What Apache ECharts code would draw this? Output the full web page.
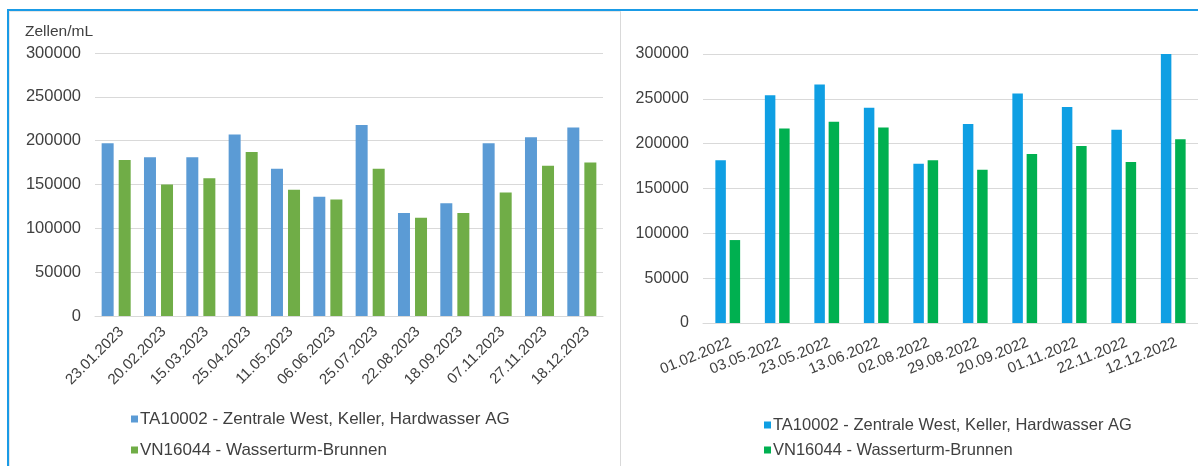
<!DOCTYPE html>
<html>
<head>
<meta charset="utf-8">
<script src="https://cdn.jsdelivr.net/npm/echarts@6/dist/echarts.min.js"></script>
<style>
  html, body { margin:0; padding:0; width:1198px; height:466px; overflow:hidden; background:#fff; }
  #frame { position:absolute; left:7px; top:9px; width:1300px; height:600px; border-top:2px solid #1a9be6; border-left:2px solid #1a9be6; }
  #panel { position:absolute; left:9px; top:11px; width:610px; height:600px; border-top:1px solid #e6e6e6; border-left:1px solid #e6e6e6; border-right:1px solid #d9d9d9; }
  .chart { position:absolute; left:0; top:0; width:1198px; height:466px; }
</style>
</head>
<body>
<div id="frame"></div>
<div id="panel"></div>
<div id="c1" class="chart"></div>
<div id="c2" class="chart"></div>
<script>
// ---- data ----
const seriesNameA = 'TA10002 - Zentrale West, Keller, Hardwasser AG';
const seriesNameB = 'VN16044 - Wasserturm-Brunnen';
const yUnit = 'Zellen/mL';

const dates2023 = ['23.01.2023','20.02.2023','15.03.2023','25.04.2023','11.05.2023','06.06.2023','25.07.2023','22.08.2023','18.09.2023','07.11.2023','27.11.2023','18.12.2023'];
const ta2023 = [197000,181000,181000,207000,168000,136000,218000,117500,128500,197000,204000,215000];
const vn2023 = [178000,150000,157000,187000,144000,133000,168000,112000,117500,141000,171500,175000];

const dates2022 = ['01.02.2022','03.05.2022','23.05.2022','13.06.2022','02.08.2022','29.08.2022','20.09.2022','01.11.2022','22.11.2022','12.12.2022'];
const ta2022 = [181500,254000,266000,240000,177500,222000,256000,241000,215500,300000];
const vn2022 = [92500,217000,224500,218000,181500,171000,188500,197500,179500,205000];

const yTicks = [0,50000,100000,150000,200000,250000,300000];

const textColor = '#404040';
const gridColor = '#d9d9d9';
const font = 'Liberation Sans, Arial, sans-serif';

function makeOption(cfg) {
  return {
    animation: false,
    textStyle: { fontFamily: font },
    grid: cfg.grid,
    legend: {
      orient: 'vertical',
      left: cfg.legendLeft, top: cfg.legendTop, height: 120,
      itemWidth: 7, itemHeight: 7, itemGap: cfg.legendGap,
      icon: 'rect',
      textStyle: { fontSize: cfg.legendFont, color: textColor, fontFamily: font, lineHeight: 18, padding: [0,0,0,-3] },
      data: [seriesNameA, seriesNameB]
    },
    xAxis: {
      type: 'category',
      data: cfg.cats,
      axisTick: { show: false },
      axisLine: { lineStyle: { color: gridColor } },
      axisLabel: { rotate: cfg.rotate, fontSize: cfg.xFont, color: textColor, margin: cfg.xMargin, interval: 0, fontFamily: font, verticalAlign: 'top' }
    },
    yAxis: {
      type: 'value',
      min: yTicks[0], max: yTicks[yTicks.length-1], interval: yTicks[1]-yTicks[0],
      axisLine: { show: false }, axisTick: { show: false },
      splitLine: { lineStyle: { color: gridColor } },
      axisLabel: { fontSize: cfg.yFont, color: textColor, margin: cfg.yMargin, fontFamily: font, formatter: function (v) { return String(v); } }
    },
    series: [
      { name: seriesNameA, type: 'bar', data: cfg.a, barWidth: cfg.barWidth, barGap: cfg.barGap, itemStyle: { color: cfg.colorA } },
      { name: seriesNameB, type: 'bar', data: cfg.b, barWidth: cfg.barWidth, barGap: cfg.barGap, itemStyle: { color: cfg.colorB } }
    ],
    graphic: cfg.graphic || []
  };
}

const c1 = echarts.init(document.getElementById('c1'), null, { renderer: 'canvas' });
c1.setOption(makeOption({
  grid: { left: 95, top: 53, width: 508, height: 263 },
  cats: dates2023, a: ta2023, b: vn2023,
  colorA: '#5b9bd5', colorB: '#70ad47',
  rotate: 45, xFont: 15, xMargin: 8, yMargin: 14, yFont: 16.5,
  barWidth: 12, barGap: '42%',
  legendLeft: 126, legendTop: 405, legendGap: 13, legendFont: 17,
  graphic: [{ type: 'text', left: 25, top: 24, style: { text: yUnit, fontSize: 15.5, fill: textColor, fontFamily: font } }]
}));

const c2 = echarts.init(document.getElementById('c2'), null, { renderer: 'canvas' });
c2.setOption(makeOption({
  grid: { left: 703, top: 54, width: 502, height: 269 },
  cats: dates2022, a: ta2022, b: vn2022,
  colorA: '#0f9fe3', colorB: '#00b050',
  rotate: 22, xFont: 15, xMargin: 12, yMargin: 14, yFont: 16,
  barWidth: 10.5, barGap: '36%',
  legendLeft: 759, legendTop: 411, legendGap: 7, legendFont: 16.5
}));
</script>
</body>
</html>
